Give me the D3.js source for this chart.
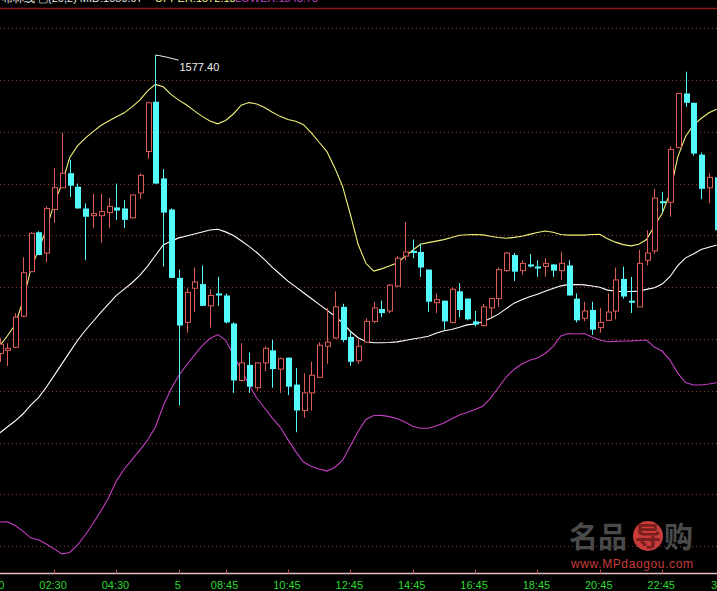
<!DOCTYPE html>
<html><head><meta charset="utf-8">
<script src="https://cdn.jsdelivr.net/npm/d3@7"></script>
<style>html,body{margin:0;padding:0;background:#000;overflow:hidden}svg{display:block}</style>
</head><body>
<script>
// ---- data (prices) ----
const openP  = [1548.6,1548.9,1549.2,1552.2,1556.5,1560.3,1558.3,1562.5,1564.6,1566.0,1564.7,1562.6,1561.9,1561.9,1562.2,1562.7,1562.6,1561.7,1564.1,1568.1,1572.9,1565.5,1562.5,1555.9,1551.6,1554.9,1555.3,1553.2,1554.4,1554.2,1551.5,1546.0,1547.5,1545.3,1547.7,1548.9,1547.1,1548.2,1545.6,1543.1,1544.8,1546.3,1549.3,1550.1,1553.1,1550.2,1547.9,1549.7,1551.7,1552.9,1552.7,1555.1,1558.0,1558.5,1558.4,1556.7,1553.5,1553.7,1551.6,1554.6,1553.9,1551.7,1551.3,1553.0,1553.9,1556.6,1558.1,1556.6,1557.2,1557.0,1557.0,1557.2,1556.6,1557.1,1553.9,1552.0,1552.8,1551.1,1551.8,1552.7,1555.8,1553.7,1553.1,1557.6,1558.5,1563.3,1563.2,1568.5,1573.7,1572.8,1567.8,1564.6,1565.6];
const highP  = [1550.1,1549.6,1552.5,1557.9,1560.3,1560.4,1562.8,1566.5,1569.9,1567.3,1565.0,1563.1,1564.0,1564.0,1563.6,1565.0,1563.4,1563.9,1566.0,1572.9,1577.4,1566.4,1562.6,1556.7,1554.9,1556.9,1557.1,1554.8,1556.0,1554.4,1551.6,1549.6,1548.7,1547.7,1549.3,1549.9,1548.2,1548.2,1547.2,1546.7,1547.8,1549.7,1553.0,1554.6,1553.4,1550.7,1550.0,1552.0,1553.6,1553.7,1555.3,1558.0,1561.3,1559.6,1559.2,1556.7,1554.4,1553.7,1555.0,1555.4,1553.9,1552.7,1553.4,1554.0,1556.9,1558.4,1558.3,1557.6,1558.2,1557.6,1557.8,1557.2,1558.4,1557.6,1554.4,1553.6,1553.6,1553.0,1554.4,1556.9,1557.0,1556.0,1558.6,1560.5,1564.5,1564.2,1568.6,1573.7,1575.8,1572.8,1568.0,1566.0,1565.8];
const lowP   = [1547.8,1547.4,1549.1,1552.1,1556.5,1558.1,1557.4,1561.2,1564.6,1563.7,1562.6,1557.6,1560.7,1559.3,1560.7,1561.5,1560.7,1561.6,1563.5,1567.4,1565.0,1557.0,1555.9,1543.6,1550.6,1552.6,1553.2,1551.1,1553.2,1551.5,1544.8,1545.9,1544.8,1545.0,1546.9,1545.3,1544.8,1544.6,1541.0,1542.4,1543.1,1546.3,1547.6,1550.0,1549.7,1547.4,1547.6,1549.7,1551.5,1552.1,1552.5,1555.0,1557.6,1557.8,1556.0,1552.6,1552.5,1550.9,1551.5,1552.1,1551.8,1551.2,1551.2,1552.1,1553.1,1556.5,1555.6,1556.2,1556.9,1556.0,1556.0,1556.0,1555.7,1554.2,1551.6,1551.7,1550.4,1550.6,1551.8,1551.9,1553.9,1552.5,1553.1,1557.1,1558.2,1562.3,1561.8,1568.4,1572.4,1567.7,1563.5,1563.1,1560.3];
const closeP = [1549.5,1549.1,1552.1,1556.4,1560.2,1558.1,1562.6,1564.6,1566.0,1564.8,1562.6,1561.8,1562.1,1562.3,1562.8,1562.4,1561.5,1563.9,1565.8,1572.8,1565.0,1562.2,1555.9,1551.3,1554.5,1555.5,1553.2,1554.2,1554.2,1551.6,1546.0,1547.7,1545.4,1547.7,1549.1,1547.1,1548.1,1545.4,1543.1,1544.8,1546.5,1549.4,1549.7,1553.1,1549.9,1547.8,1549.3,1551.7,1553.0,1552.5,1555.2,1557.8,1558.4,1558.3,1556.9,1553.6,1553.8,1551.7,1554.8,1552.8,1551.9,1551.4,1553.1,1553.9,1556.7,1558.3,1556.5,1557.3,1557.0,1556.8,1557.3,1556.6,1557.3,1554.2,1551.8,1552.7,1550.9,1551.6,1552.6,1555.7,1554.1,1553.5,1557.3,1558.3,1563.6,1563.1,1568.3,1573.7,1572.8,1567.9,1564.5,1565.6,1560.5];
const upperBand = [1549.32,1550.29,1551.38,1553.65,1556.67,1558.64,1560.56,1563.07,1564.96,1567.49,1568.64,1569.39,1570.02,1570.61,1571.04,1571.45,1571.83,1572.40,1573.05,1573.95,1574.58,1574.35,1573.61,1573.06,1572.58,1572.02,1571.49,1571.04,1570.77,1571.10,1571.72,1572.57,1572.82,1572.69,1572.34,1571.88,1571.49,1571.18,1571.01,1570.69,1569.89,1568.99,1568.09,1566.54,1564.75,1562.04,1559.14,1557.31,1556.56,1556.77,1557.04,1557.33,1557.96,1558.57,1559.15,1559.30,1559.45,1559.59,1559.79,1560.01,1560.06,1560.08,1560.05,1559.91,1559.79,1559.72,1559.81,1559.92,1560.10,1560.28,1560.42,1560.30,1560.08,1560.03,1560.03,1560.03,1560.08,1560.10,1559.67,1559.35,1559.11,1558.99,1559.15,1559.60,1560.90,1562.12,1564.06,1567.56,1569.55,1570.65,1571.28,1571.83,1572.18];
const midBand = [1540.92,1541.50,1542.08,1542.76,1543.62,1544.35,1545.34,1546.47,1547.60,1548.73,1549.86,1550.82,1551.69,1552.56,1553.38,1554.21,1554.82,1555.43,1556.15,1557.04,1558.06,1559.07,1559.44,1559.76,1559.95,1560.13,1560.32,1560.52,1560.59,1560.34,1559.99,1559.49,1558.94,1558.35,1557.66,1556.91,1556.25,1555.59,1555.03,1554.47,1553.91,1553.34,1552.79,1552.22,1551.56,1550.75,1550.12,1549.77,1549.64,1549.64,1549.66,1549.72,1549.86,1550.00,1550.12,1550.26,1550.56,1550.80,1550.91,1551.13,1551.36,1551.45,1551.67,1552.00,1552.40,1552.93,1553.46,1553.78,1554.08,1554.32,1554.60,1554.88,1555.13,1555.25,1555.26,1555.22,1555.11,1554.99,1554.72,1554.64,1554.56,1554.59,1554.62,1554.79,1554.95,1555.30,1556.01,1557.08,1557.83,1558.20,1558.63,1558.86,1559.07];
const lowerBand = [1532.33,1532.36,1531.99,1531.46,1530.81,1530.62,1530.21,1529.74,1529.26,1529.39,1530.11,1531.08,1532.19,1533.39,1534.70,1536.31,1537.45,1538.36,1539.28,1540.25,1541.50,1543.53,1545.17,1546.48,1547.49,1548.45,1549.36,1550.05,1550.43,1549.90,1548.45,1547.05,1545.56,1544.30,1543.34,1542.37,1541.50,1540.29,1539.13,1538.12,1537.69,1537.45,1537.25,1537.60,1538.27,1539.67,1541.07,1542.23,1542.61,1542.63,1542.51,1542.32,1541.98,1541.57,1541.38,1541.38,1541.60,1541.89,1542.31,1542.66,1542.90,1543.20,1543.51,1544.30,1545.32,1546.33,1547.06,1547.58,1547.95,1548.16,1548.60,1549.27,1550.29,1550.53,1550.48,1550.53,1550.19,1549.90,1549.74,1549.77,1549.80,1549.82,1549.86,1549.90,1549.22,1548.84,1547.97,1546.71,1545.80,1545.56,1545.56,1545.65,1545.78];
const tickIndex  = [-1, 7, 15, 23, 29, 37, 45, 53, 61, 69, 77, 85, 93];
const tickLabels = ["00:30","02:30","04:30","5","08:45","10:45","12:45","14:45","16:45","18:45","20:45","22:45","3"];
const gridPrices = [1530,1535,1540,1545,1550,1555,1560,1565,1570,1575,1580];

// ---- layout ----
const W = 717, H = 591;
const svg = d3.select("body").append("svg").attr("width", W).attr("height", H).style("background", "#000");
const n = openP.length;
const x = d3.scaleLinear().domain([0, n - 1]).range([-0.5, 716.7]);
const y = d3.scaleLinear().domain([1530, 1580]).range([546.2, 28.2]);

svg.append("defs").append("clipPath").attr("id", "plot")
  .append("rect").attr("x", 0).attr("y", 9).attr("width", W).attr("height", 564);

// top border line
svg.append("line").attr("x1", 0).attr("x2", W).attr("y1", 8.5).attr("y2", 8.5)
  .attr("stroke", "#8c1c1c").attr("stroke-width", 1.5);

// header (mostly cut by the top edge, as in the reference)
const hdr = svg.append("text").attr("y", 1.5).attr("font-family", "Liberation Sans, Arial, sans-serif").attr("font-size", 11);
hdr.append("tspan").attr("x", 2).attr("fill", "#e8e8e8").text("布林线 ▢(20,2)  MID:" + midBand[n-1].toFixed(2));
hdr.append("tspan").attr("x", 155).attr("fill", "#f0f080").text("UPPER:" + upperBand[n-1].toFixed(2));
hdr.append("tspan").attr("x", 235).attr("fill", "#c040c0").text("LOWER:" + lowerBand[n-1].toFixed(2));

// grid
svg.append("g").selectAll("line").data(gridPrices).join("line")
  .attr("x1", 0).attr("x2", W)
  .attr("y1", d => Math.round(y(d)) + 0.5).attr("y2", d => Math.round(y(d)) + 0.5)
  .attr("stroke", "#8a3a30").attr("stroke-width", 1).attr("stroke-dasharray", "1,3");

// watermark
const wm = svg.append("g");
wm.append("text").attr("x", 569).attr("y", 548).attr("font-family", "Noto Sans CJK SC, sans-serif")
  .attr("font-size", 29).attr("font-weight", "bold").attr("fill", "#4a4a4a").text("名品");
wm.append("circle").attr("cx", 648).attr("cy", 536).attr("r", 15).attr("fill", "#c83c3c");
wm.append("text").attr("x", 648).attr("y", 546).attr("text-anchor", "middle").attr("font-family", "Noto Sans CJK SC, sans-serif")
  .attr("font-size", 26).attr("font-weight", "bold").attr("fill", "#7a1e1e").text("导");
wm.append("text").attr("x", 664).attr("y", 548).attr("font-family", "Noto Sans CJK SC, sans-serif")
  .attr("font-size", 29).attr("font-weight", "bold").attr("fill", "#4a4a4a").text("购");
wm.append("text").attr("x", 571).attr("y", 568).attr("font-family", "Liberation Sans, Arial, sans-serif")
  .attr("font-size", 12).attr("fill", "#c83c3c").attr("textLength", 122).text("www.MPdaogou.com");

const plot = svg.append("g").attr("clip-path", "url(#plot)");

// bands
const line = d3.line().x((d, i) => x(i)).y(d => y(d));
plot.append("path").attr("d", line(lowerBand)).attr("fill", "none").attr("stroke", "#c23fc2").attr("stroke-width", 1.1);
plot.append("path").attr("d", line(midBand)).attr("fill", "none").attr("stroke", "#ffffff").attr("stroke-width", 1.1);
plot.append("path").attr("d", line(upperBand)).attr("fill", "none").attr("stroke", "#f2f27a").attr("stroke-width", 1.1);

// candles
const RED = "#dc5c58", CYAN = "#54fcfc";
const candles = d3.range(n).map(i => ({i, o: openP[i], h: highP[i], l: lowP[i], c: closeP[i], up: closeP[i] >= openP[i]}));
const cg = plot.append("g").selectAll("g").data(candles).join("g");
cg.append("line")
  .attr("x1", d => Math.round(x(d.i)) + 0.5).attr("x2", d => Math.round(x(d.i)) + 0.5)
  .attr("y1", d => y(d.h)).attr("y2", d => y(d.l))
  .attr("stroke", d => d.up ? RED : CYAN).attr("stroke-width", 1);
// up: hollow red
cg.filter(d => d.up).append("rect")
  .attr("x", d => Math.round(x(d.i)) - 2 + 0.5)
  .attr("y", d => y(d.c))
  .attr("width", 5)
  .attr("height", d => Math.max(1, y(d.o) - y(d.c)))
  .attr("fill", "#000").attr("stroke", RED).attr("stroke-width", 1);
// down: filled cyan
cg.filter(d => !d.up).append("rect")
  .attr("x", d => Math.round(x(d.i)) - 2.5 + 0.5)
  .attr("y", d => y(d.o))
  .attr("width", 6)
  .attr("height", d => Math.max(1.5, y(d.c) - y(d.o)))
  .attr("fill", CYAN);

// max annotation
const maxI = d3.maxIndex(highP);
const mx = Math.round(x(maxI)) + 0.5, my = y(highP[maxI]);
svg.append("path").attr("d", `M${mx},${my} L${mx + 4},${my + 0.5} L${mx + 11},${my + 2} L${mx + 23},${my + 5}`)
  .attr("fill", "none").attr("stroke", "#e8f4f4").attr("stroke-width", 1);
svg.append("text").attr("x", mx + 24).attr("y", my + 15.5)
  .attr("font-family", "Liberation Sans, Arial, sans-serif").attr("font-size", 11)
  .attr("fill", "#f0f0f0").text(highP[maxI].toFixed(2));

// x axis
const axY = 573.5;
svg.append("line").attr("x1", 0).attr("x2", W).attr("y1", axY).attr("y2", axY)
  .attr("stroke", "#e8c0c0").attr("stroke-width", 1.5);
svg.append("g").selectAll("line").data(tickIndex).join("line")
  .attr("x1", d => Math.round(x(d)) + 0.5).attr("x2", d => Math.round(x(d)) + 0.5)
  .attr("y1", axY - 4).attr("y2", axY)
  .attr("stroke", "#c05050").attr("stroke-width", 1);
svg.append("g").selectAll("text").data(tickIndex).join("text")
  .attr("x", (d) => Math.min(x(d) - 1, W - 3))
  .attr("y", 589)
  .attr("text-anchor", "middle")
  .attr("font-family", "Liberation Sans, Arial, sans-serif").attr("font-size", 11)
  .attr("fill", "#2ed82e")
  .text((d, i) => tickLabels[i]);
</script>
</body></html>
